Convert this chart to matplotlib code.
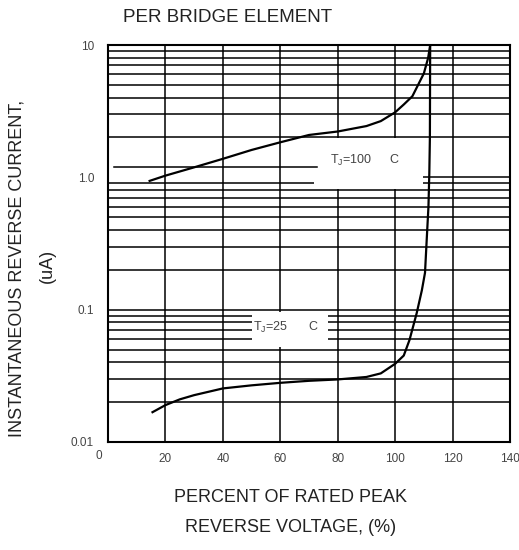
import matplotlib
matplotlib.use("Agg")
import matplotlib.pyplot as plt
import matplotlib.transforms as mtransforms
from matplotlib.patches import Rectangle

plt.rcParams['font.family'] = ['Liberation Sans', 'DejaVu Sans']

# ---- data ----
x_ticks = [0, 20, 40, 60, 80, 100, 120, 140]
x_tick_labels = ['0', '20', '40', '60', '80', '100', '120', '140']
y_ticks = [0.01, 0.1, 1.0, 10]
y_tick_labels = ['0.01', '0.1', '1.0', '10']

t100_x = [14.5, 20, 30, 40, 50, 60, 70, 80, 90, 95, 100, 103, 106, 108, 110, 111.5, 112.2]
t100_y = [0.94, 1.03, 1.19, 1.38, 1.61, 1.84, 2.09, 2.22, 2.44, 2.66, 3.1, 3.55, 4.1, 5.0, 6.1, 8.0, 10.0]

t25_x = [15.5, 20, 25, 30, 40, 50, 60, 70, 80, 90, 95, 100, 103, 105, 107.5, 109.3, 110.4, 111.0, 111.6, 111.9, 112.1, 112.2]
t25_y = [0.0168, 0.019, 0.021, 0.0226, 0.0254, 0.0268, 0.028, 0.029, 0.0297, 0.031, 0.033, 0.039, 0.045, 0.059, 0.094, 0.14, 0.19, 0.34, 0.6, 1.07, 2.0, 10.0]

label_t100 = 'T$_\\mathregular{J}$=100'
label_t25 = 'T$_\\mathregular{J}$=25'

# ---- figure ----
fig = plt.figure(figsize=(5.19, 5.50), dpi=100)
ax = fig.add_axes([108/519, 1-442/550, 402/519, 397/550])
ax.set_yscale('log')
ax.set_xlim(0, 140)
ax.set_ylim(0.01, 10)

ax.set_xticks(x_ticks)
ax.set_xticklabels(x_tick_labels)
ax.set_yticks(y_ticks)
ax.set_yticklabels(y_tick_labels)
ax.yaxis.set_minor_formatter(matplotlib.ticker.NullFormatter())
ax.tick_params(which='both', length=0, labelsize=8.5, labelcolor='#444444')
ax.tick_params(axis='x', pad=8)
ax.tick_params(axis='y', pad=10)
lbl0 = ax.get_xticklabels()[0]
lbl0.set_transform(lbl0.get_transform() + mtransforms.ScaledTranslation(-9/100, 3/100, fig.dpi_scale_trans))

# grid: vertical lines via ax.grid, horizontal log grid lines drawn one by one
ax.set_axisbelow(True)
ax.grid(True, which='major', axis='x', color='black', linewidth=1.1)
ytrans = ax.get_yaxis_transform()
grid_levels = [m * 10.0 ** d for d in (-2, -1, 0) for m in range(1, 10)]
for gy in grid_levels:
    if abs(gy - 1.0) < 1e-9:
        # in the reference the 1.0 line is only drawn right of the label box
        ax.plot([0.784, 1.0], [gy, gy], transform=ytrans, color='black', lw=1.1, zorder=0.6)
    else:
        ax.plot([0.0, 1.0], [gy, gy], transform=ytrans, color='black', lw=1.1, zorder=0.6)
# the displaced line drawn left of the T=100 label in the reference
ax.plot([0.015, 0.52], [0.6927, 0.6927], transform=ax.transAxes, color='black', lw=1.1, zorder=1.2)

for s in ax.spines.values():
    s.set_linewidth(1.5)

# white label boxes covering the grid
ax.add_patch(Rectangle((0.512, 0.6385), 0.272, 0.126, transform=ax.transAxes,
                       facecolor='white', edgecolor='none', zorder=1))
ax.add_patch(Rectangle((0.358, 0.239), 0.189, 0.0885, transform=ax.transAxes,
                       facecolor='white', edgecolor='none', zorder=1))

ax.plot(t100_x, t100_y, color='black', lw=1.6, zorder=3)
ax.plot(t25_x, t25_y, color='black', lw=1.6, zorder=3)

ax.text(0.552, 0.710, label_t100, transform=ax.transAxes, fontsize=9, color='#444444',
        ha='left', va='center', zorder=4)
ax.text(0.711, 0.710, 'C', transform=ax.transAxes, fontsize=9, color='#444444',
        ha='center', va='center', zorder=4)
ax.text(0.361, 0.2897, label_t25, transform=ax.transAxes, fontsize=9, color='#444444',
        ha='left', va='center', zorder=4)
ax.text(0.51, 0.2897, 'C', transform=ax.transAxes, fontsize=9, color='#444444',
        ha='center', va='center', zorder=4)

# titles / labels
fig.text(228/519, 1-17/550, 'PER BRIDGE ELEMENT', fontsize=13.5, color='#222222',
         ha='center', va='center')
fig.text(17/519, 1-268/550, 'INSTANTANEOUS REVERSE CURRENT,', fontsize=13, color='#222222',
         ha='center', va='center', rotation=90)
fig.text(47/519, 1-266/550, '(uA)', fontsize=13, color='#222222',
         ha='center', va='center', rotation=90)
fig.text(291/519, 1-497/550, 'PERCENT OF RATED PEAK', fontsize=13, color='#222222',
         ha='center', va='center')
fig.text(291/519, 1-527/550, 'REVERSE VOLTAGE, (%)', fontsize=13, color='#222222',
         ha='center', va='center')

fig.savefig('out.png', dpi=100, facecolor='white')
